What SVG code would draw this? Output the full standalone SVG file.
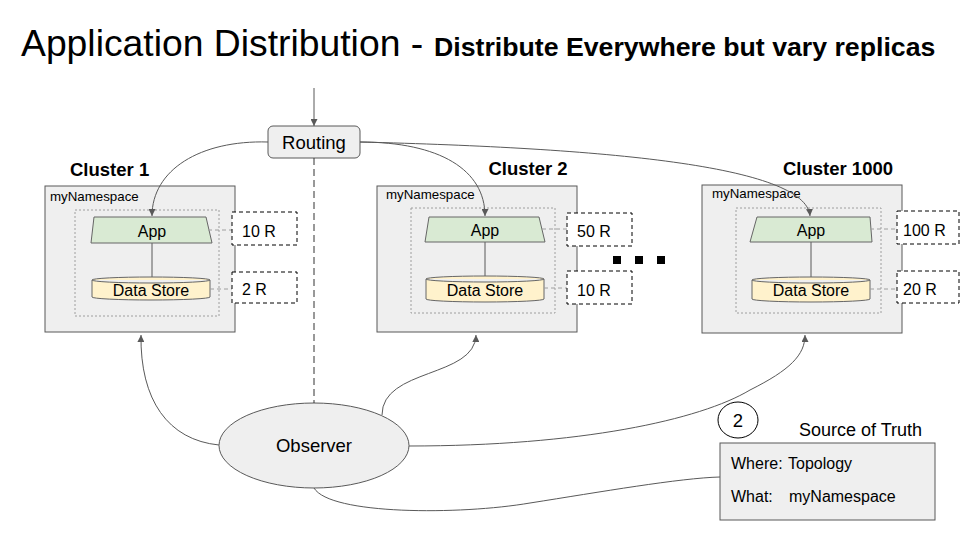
<svg xmlns="http://www.w3.org/2000/svg" width="960" height="540" viewBox="0 0 960 540">
<defs>
<style>
text{font-family:"Liberation Sans",Arial,sans-serif;fill:#000}
.cl{fill:#efefef;stroke:#595959;stroke-width:1}
.lbl{font-weight:bold;font-size:18.5px}
.ns{font-size:13.3px}
.inner{fill:none;stroke:#9e9e9e;stroke-width:1;stroke-dasharray:2,2}
.app{fill:#d9ead3;stroke:#666;stroke-width:1}
.ds{fill:#fff2cc;stroke:#666;stroke-width:1}
.t16{font-size:16px}
.ctr{text-anchor:middle}
.rep{fill:#fff;stroke:#000;stroke-width:1;stroke-dasharray:4,3}
.lk{fill:none;stroke:#9e9e9e;stroke-width:1;stroke-dasharray:4,3}
.solid{fill:none;stroke:#595959;stroke-width:1}
.con{fill:none;stroke:#595959;stroke-width:1}
</style>
<marker id="ah" viewBox="0 0 10 10" refX="10" refY="5" markerWidth="7" markerHeight="7" markerUnits="userSpaceOnUse" orient="auto">
<path d="M0,0 L10,5 L0,10 Z" fill="#595959"/>
</marker>
</defs>
<rect width="960" height="540" fill="#fff"/>

<g id="title">
<text x="21" y="56" style="font-size:37.3px">Application Distribution -</text>
<text x="434" y="56" style="font-size:26.7px;font-weight:bold">Distribute Everywhere but vary replicas</text>
</g>

<g id="routing">
<rect x="268" y="126" width="92" height="32" rx="5" fill="#efefef" stroke="#595959"/>
<text x="314" y="149" class="ctr" style="font-size:18.5px">Routing</text>
</g>

<g id="cluster1">
<rect class="cl" x="45" y="186" width="190" height="146"/>
<text class="lbl" x="70" y="176">Cluster 1</text>
<text class="ns" x="50" y="201">myNamespace</text>
<rect class="inner" x="75" y="210" width="144" height="106"/>
<line class="solid" x1="152" y1="243" x2="152" y2="278"/>
<path class="app" d="M94,217 L206,217 L212,243 L91,243 Z"/>
<text class="t16 ctr" x="152" y="237">App</text>
<path class="ds" d="M92,280 A59,3 0 0 1 210,280 V297 A59,3 0 0 1 92,297 Z M92,280 A59,3 0 0 0 210,280"/>
<text class="t16 ctr" x="151" y="296">Data Store</text>
<line class="lk" x1="208" y1="230" x2="232" y2="230"/>
<line class="lk" x1="210" y1="289" x2="232" y2="289"/>
<rect class="rep" x="232" y="212" width="65" height="33"/>
<text class="t16" x="242" y="237">10 R</text>
<rect class="rep" x="232" y="272" width="65" height="31"/>
<text class="t16" x="242" y="295">2 R</text>
</g>

<g id="cluster2">
<rect class="cl" x="377" y="186" width="200" height="146"/>
<text class="lbl ctr" x="528" y="175">Cluster 2</text>
<text class="ns" x="386" y="199">myNamespace</text>
<rect class="inner" x="411" y="208" width="144" height="105"/>
<line class="solid" x1="485" y1="242" x2="485" y2="277"/>
<path class="app" d="M429,217 L539,217 L545,242 L425,242 Z"/>
<text class="t16 ctr" x="485" y="236">App</text>
<path class="ds" d="M426,279 A59,3 0 0 1 544,279 V299 A59,3 0 0 1 426,299 Z M426,279 A59,3 0 0 0 544,279"/>
<text class="t16 ctr" x="485" y="296">Data Store</text>
<line class="lk" x1="542" y1="229" x2="567" y2="229"/>
<line class="lk" x1="544" y1="288" x2="567" y2="288"/>
<rect class="rep" x="567" y="213" width="65" height="33"/>
<text class="t16" x="577" y="237">50 R</text>
<rect class="rep" x="567" y="271" width="65" height="33"/>
<text class="t16" x="577" y="296">10 R</text>
</g>

<g id="ellipsis">
<rect x="613" y="256" width="8" height="8" fill="#000"/>
<rect x="635" y="256" width="8" height="8" fill="#000"/>
<rect x="657" y="256" width="8" height="8" fill="#000"/>
</g>

<g id="cluster1000">
<rect class="cl" x="702" y="185" width="200" height="148"/>
<text class="lbl ctr" x="838" y="175">Cluster 1000</text>
<text class="ns" x="712" y="198">myNamespace</text>
<rect class="inner" x="736" y="208" width="145" height="105"/>
<line class="solid" x1="811" y1="242" x2="811" y2="278"/>
<path class="app" d="M757,217 L870,217 L872,242 L750,242 Z"/>
<text class="t16 ctr" x="811" y="236">App</text>
<path class="ds" d="M752,280 A59,3 0 0 1 870,280 V299 A59,3 0 0 1 752,299 Z M752,280 A59,3 0 0 0 870,280"/>
<text class="t16 ctr" x="811" y="296">Data Store</text>
<line class="lk" x1="870" y1="229" x2="897" y2="229"/>
<line class="lk" x1="870" y1="289" x2="897" y2="289"/>
<rect class="rep" x="897" y="211" width="62" height="33"/>
<text class="t16" x="903" y="236">100 R</text>
<rect class="rep" x="897" y="271" width="62" height="32"/>
<text class="t16" x="903" y="295">20 R</text>
</g>

<g id="observer">
<ellipse cx="314" cy="445.5" rx="95" ry="42.5" fill="#efefef" stroke="#595959"/>
<text x="314" y="452" class="ctr" style="font-size:18.5px">Observer</text>
</g>

<g id="sourceOfTruth">
<ellipse cx="738" cy="420" rx="20" ry="18" fill="#fff" stroke="#000"/>
<text x="738" y="427" class="ctr" style="font-size:18.5px">2</text>
<text x="799" y="436" style="font-size:18px">Source of Truth</text>
<rect x="720" y="443" width="215" height="77" fill="#efefef" stroke="#595959"/>
<text class="t16" x="731" y="469">Where:</text>
<text class="t16" x="788" y="469">Topology</text>
<text class="t16" x="731" y="502">What:</text>
<text class="t16" x="789" y="502">myNamespace</text>
</g>

<g id="connectors">
<line class="con" x1="314" y1="88" x2="314" y2="126" marker-end="url(#ah)"/>
<line x1="314" y1="158" x2="314" y2="403" stroke="#333" stroke-width="1" stroke-dasharray="7,4"/>
<path class="con" d="M268,142 C200,140 152,170 152,216" marker-end="url(#ah)"/>
<path class="con" d="M360,142 C440,142 485,170 485,216" marker-end="url(#ah)"/>
<path class="con" d="M360,142 C600,148 806,165 810,216" marker-end="url(#ah)"/>
<path class="con" d="M219,445 C168,440 140,400 141,335" marker-end="url(#ah)"/>
<path class="con" d="M382,415 C382,368 475,378 476,335" marker-end="url(#ah)"/>
<path class="con" d="M409,446 C580,446 700,420 750,390 C790,370 805,355 805,335" marker-end="url(#ah)"/>
<path class="con" d="M314,488 C330,515 460,515 530,503 C600,492 680,478 720,477"/>
</g>
</svg>
